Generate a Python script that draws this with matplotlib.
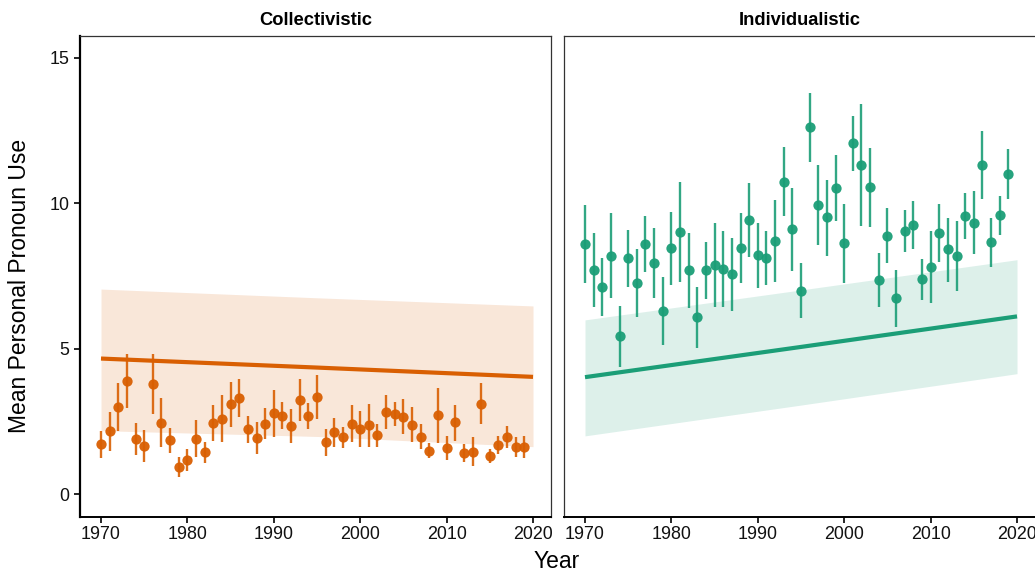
import matplotlib
matplotlib.use("Agg")
import matplotlib.pyplot as plt
import numpy as np

plt.rcParams['font.family'] = ['Liberation Sans', 'DejaVu Sans']

years = np.arange(1970, 2020)

coll_mean = [1.71, 2.18, 2.99, 3.89, 1.90, 1.65, 3.78, 2.44, 1.85, 0.94,
             1.17, 1.90, 1.43, 2.43, 2.59, 3.08, 3.31, 2.24, 1.93, 2.41,
             2.78, 2.69, 2.34, 3.23, 2.68, 3.35, 1.78, 2.12, 1.95, 2.42,
             2.24, 2.37, 2.03, 2.82, 2.76, 2.66, 2.38, 1.97, 1.49, 2.71,
             1.59, 2.47, 1.40, 1.46, 3.11, 1.31, 1.69, 1.96, 1.63, 1.62]
coll_hi = [2.17, 2.83, 3.81, 4.82, 2.45, 2.20, 4.81, 3.29, 2.26, 1.28,
           1.54, 2.55, 1.79, 3.05, 3.41, 3.84, 3.97, 2.69, 2.47, 2.95,
           3.58, 3.15, 2.91, 3.95, 3.12, 4.09, 2.24, 2.62, 2.29, 3.06,
           2.86, 3.10, 2.40, 3.40, 3.18, 3.27, 2.98, 2.41, 1.74, 3.66,
           2.00, 3.07, 1.72, 1.95, 3.81, 1.55, 2.00, 2.34, 1.95, 2.00]
coll_lo = [1.24, 1.49, 2.18, 2.95, 1.34, 1.11, 2.75, 1.61, 1.40, 0.57,
           0.80, 1.26, 1.08, 1.82, 1.78, 2.32, 2.64, 1.74, 1.38, 1.88,
           1.97, 2.22, 1.74, 2.52, 2.22, 2.57, 1.32, 1.63, 1.57, 1.80,
           1.61, 1.63, 1.63, 2.24, 2.35, 2.05, 1.79, 1.54, 1.23, 1.76,
           1.17, 1.83, 1.09, 0.96, 2.40, 1.06, 1.38, 1.57, 1.28, 1.23]

ind_mean = [8.60, 7.69, 7.13, 8.20, 5.43, 8.11, 7.26, 8.61, 7.95, 6.28,
            8.45, 9.01, 7.69, 6.09, 7.69, 7.89, 7.75, 7.57, 8.45, 9.43,
            8.22, 8.13, 8.71, 10.74, 9.10, 6.99, 12.61, 9.94, 9.52, 10.54,
            8.62, 12.06, 11.33, 10.55, 7.36, 8.89, 6.73, 9.05, 9.26, 7.38,
            7.81, 8.98, 8.42, 8.20, 9.56, 9.33, 11.32, 8.66, 9.60, 11.00]
ind_hi = [9.94, 8.97, 8.11, 9.68, 6.47, 9.08, 8.43, 9.56, 9.16, 7.45,
          9.71, 10.72, 8.99, 7.13, 8.68, 9.31, 9.05, 8.82, 9.66, 10.69,
          9.33, 9.06, 10.11, 11.93, 10.53, 7.94, 13.80, 11.32, 10.80, 11.66,
          9.98, 13.01, 13.42, 11.89, 8.28, 9.83, 7.71, 9.77, 10.09, 8.08,
          9.05, 9.98, 9.50, 9.39, 10.34, 10.42, 12.50, 9.48, 10.26, 11.86]
ind_lo = [7.27, 6.42, 6.13, 6.73, 4.38, 7.13, 6.10, 7.63, 6.73, 5.12,
          7.18, 7.28, 6.39, 5.01, 6.70, 6.44, 6.44, 6.31, 7.25, 8.14,
          7.08, 7.19, 7.28, 9.56, 7.68, 6.04, 11.43, 8.57, 8.20, 9.40,
          7.25, 11.11, 9.23, 9.20, 6.44, 7.94, 5.73, 8.34, 8.42, 6.67,
          6.56, 7.99, 7.30, 6.99, 8.76, 8.25, 10.14, 7.82, 8.91, 10.14]

fit_years = [1970, 1995, 2020]
coll_fit = [4.66, 4.35, 4.03]
coll_band_hi = [7.05, 6.75, 6.47]
coll_band_lo = [2.18, 1.98, 1.63]
ind_fit = [4.02, 5.06, 6.11]
ind_band_hi = [5.99, 7.02, 8.06]
ind_band_lo = [2.00, 3.06, 4.14]

panels = ["Collectivistic", "Individualistic"]
colors = ["#D95F02", "#1B9E77"]
xticks = [1970, 1980, 1990, 2000, 2010, 2020]
yticks = [0, 5, 10, 15]

fig = plt.figure(figsize=(10.35, 5.73), dpi=100)
W, H = 1035, 573
axL = fig.add_axes([80 / W, 1 - 517 / H, 471 / W, 481 / H])
axR = fig.add_axes([564 / W, 1 - 517 / H, 471 / W, 481 / H])

data = [
    (coll_mean, coll_lo, coll_hi, coll_fit, coll_band_lo, coll_band_hi),
    (ind_mean, ind_lo, ind_hi, ind_fit, ind_band_lo, ind_band_hi),
]

for i, (ax, title, col, d) in enumerate(zip([axL, axR], panels, colors, data)):
    mean, lo, hi, fit, blo, bhi = d
    ax.fill_between(fit_years, blo, bhi, color=col, alpha=0.15, linewidth=0, zorder=1)
    ax.plot(fit_years, fit, color=col, linewidth=3.0, zorder=2, solid_capstyle='butt')
    ax.vlines(years, lo, hi, color=col, linewidth=1.7, alpha=0.9, zorder=3)
    ax.plot(years, mean, 'o', color=col, markersize=7.4, alpha=0.95,
            markeredgewidth=0, zorder=4)
    ax.set_xlim(1967.57, 2022.08)
    ax.set_ylim(-0.79, 15.755)
    ax.set_xticks(xticks)
    ax.set_xticklabels([str(x) for x in xticks], fontsize=12.9, color='#111111')
    ax.tick_params(axis='x', direction='out', length=4.5, width=1.2, pad=2)
    for s in ['top', 'right', 'left']:
        ax.spines[s].set_color('#333333')
        ax.spines[s].set_linewidth(0.9)
    ax.spines['bottom'].set_color('black')
    ax.spines['bottom'].set_linewidth(1.4)
    ax.set_title(title, fontsize=13.2, fontweight='bold', pad=8)
    if i == 0:
        ax.set_yticks(yticks)
        ax.set_yticklabels([str(y) for y in yticks], fontsize=12.9, color='#111111')
        ax.tick_params(axis='y', direction='out', length=4.5, width=1.2, pad=3)
        ax.spines['left'].set_color('black')
        ax.spines['left'].set_linewidth(1.6)
    else:
        ax.set_yticks([])
        ax.spines['right'].set_visible(False)

fig.text(20 / W, 1 - 286 / H, "Mean Personal Pronoun Use", rotation=90,
         ha='center', va='center', fontsize=16.5)
fig.text(557 / W, 1 - 561 / H, "Year", ha='center', va='center', fontsize=16.5)

fig.savefig("out.png", dpi=100)
